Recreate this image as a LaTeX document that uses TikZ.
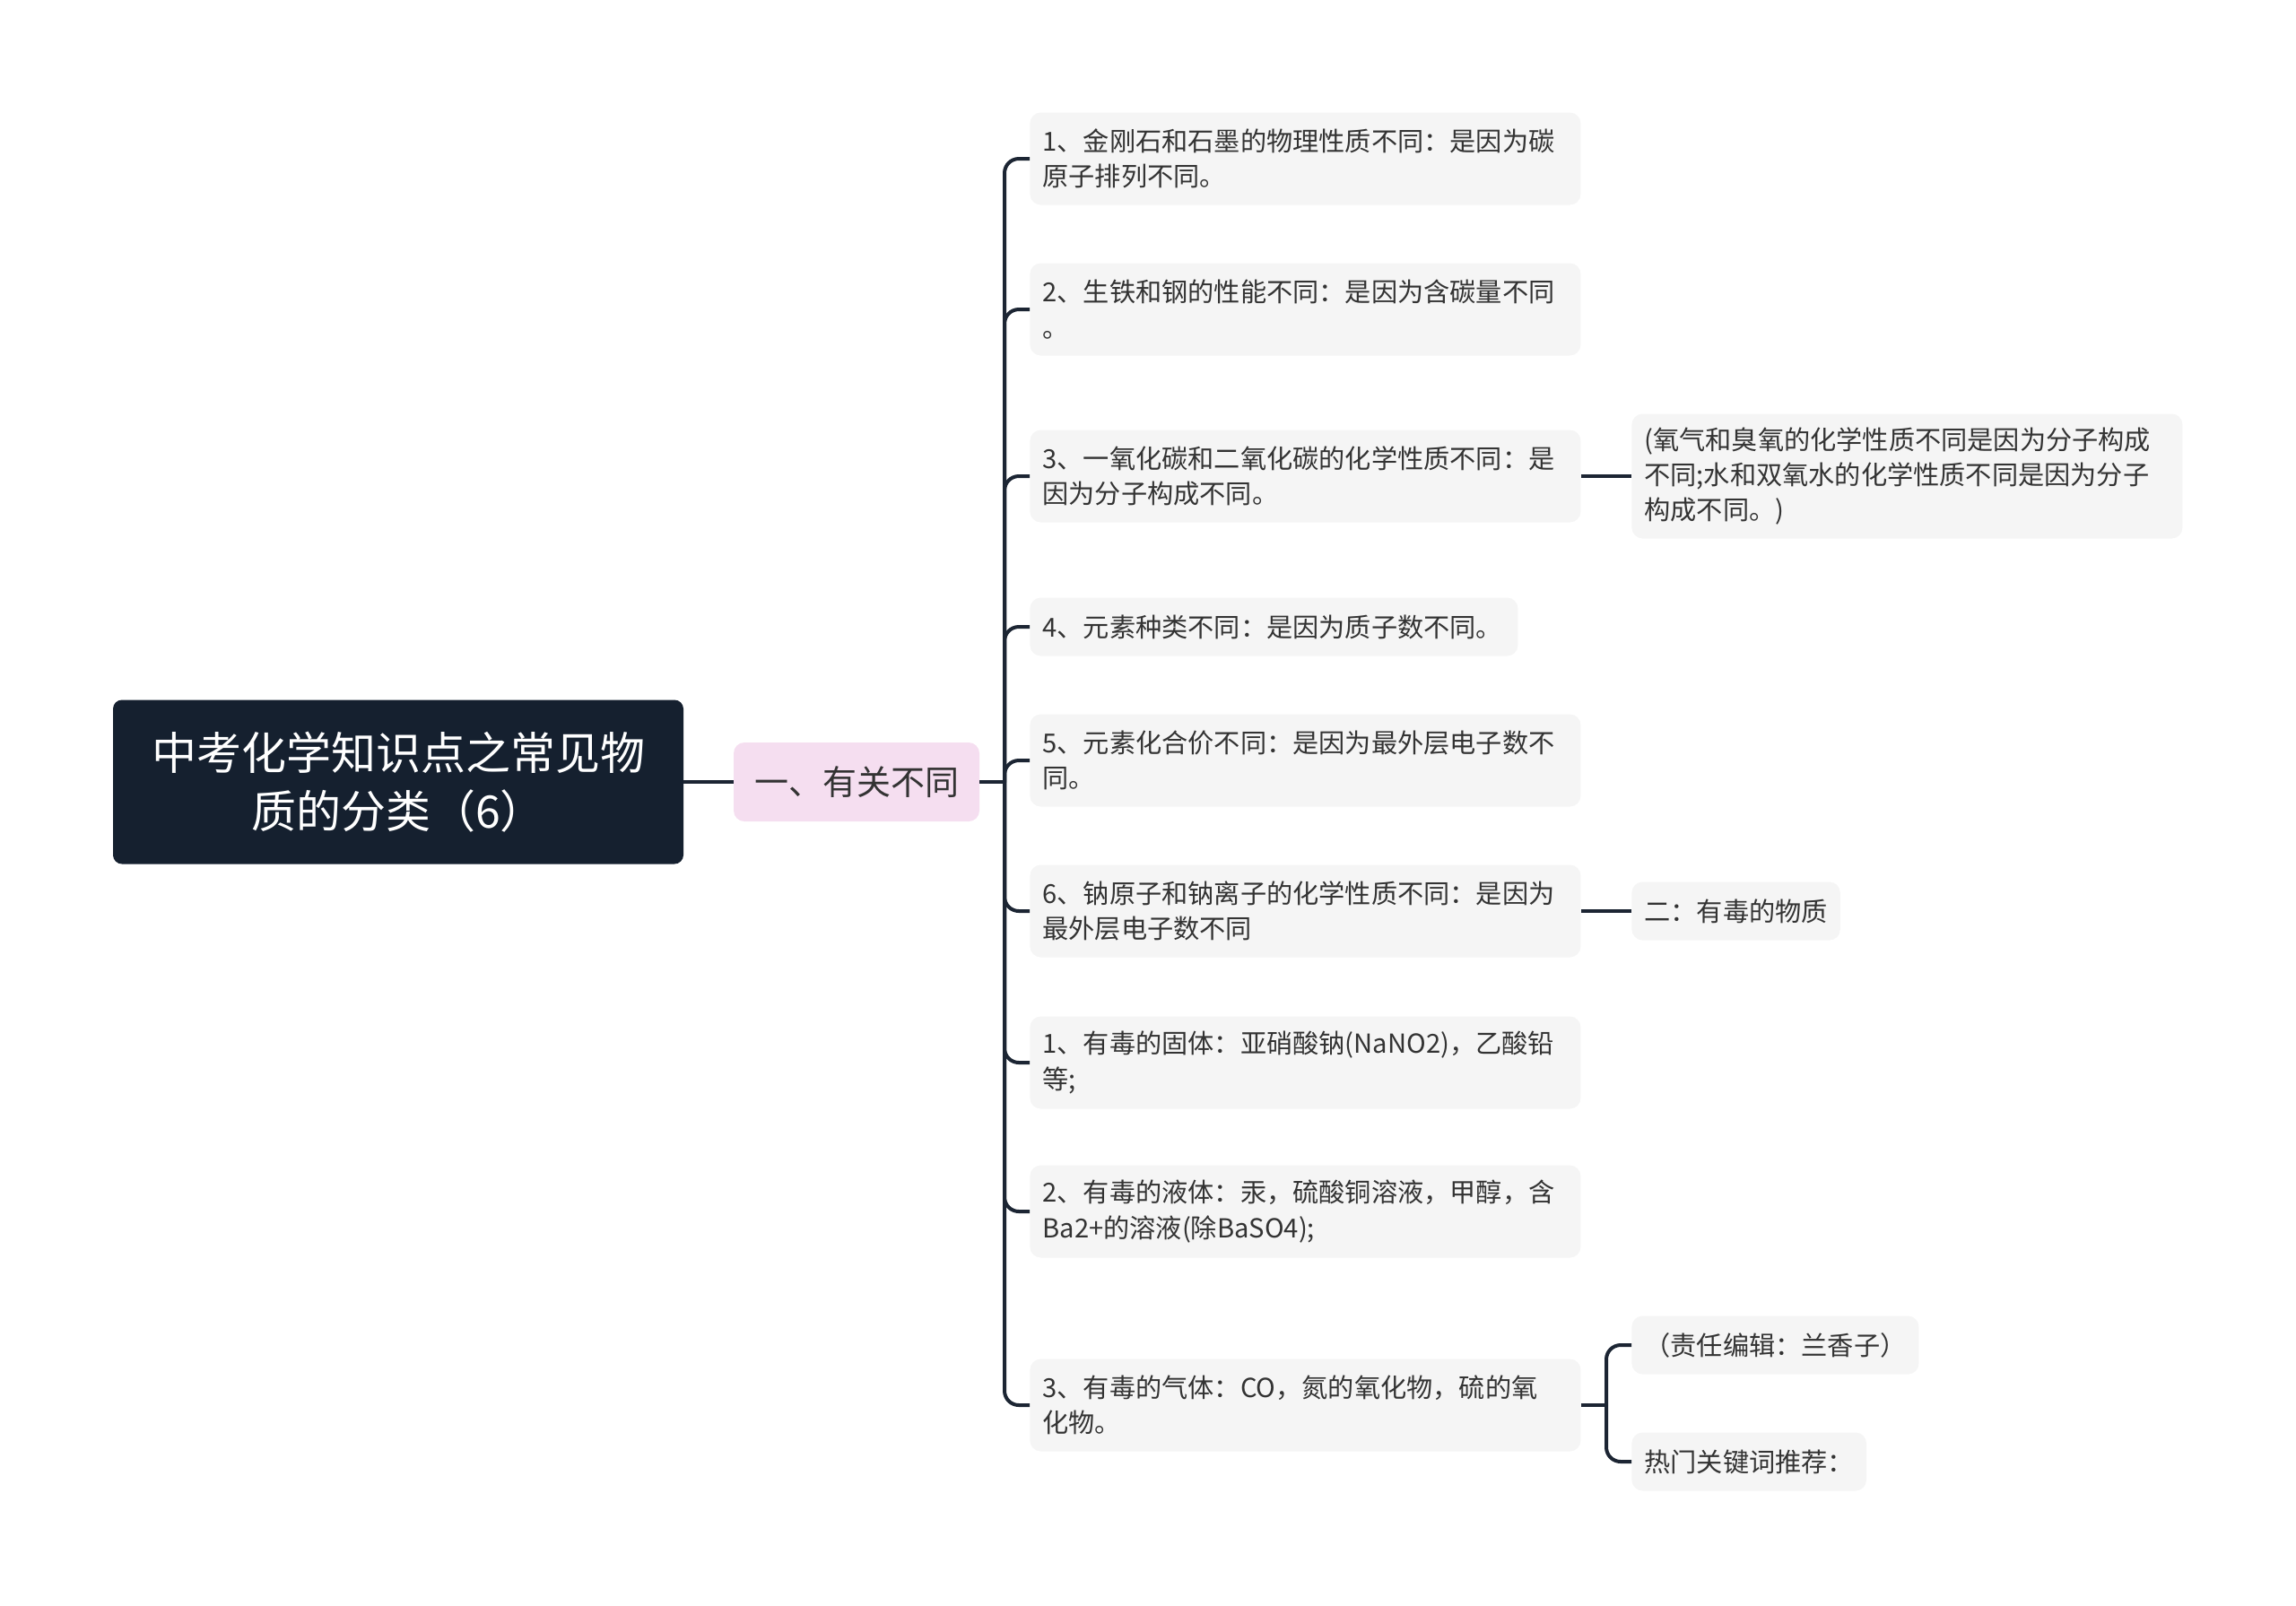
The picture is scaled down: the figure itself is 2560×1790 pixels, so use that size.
\documentclass[tikz,border=0pt]{standalone}
\usepackage{fontspec}
\setmainfont{Noto Sans CJK SC}
\usetikzlibrary{positioning}
\definecolor{navy}{HTML}{15202F}
\definecolor{wirecol}{HTML}{1C2533}
\definecolor{pinkfill}{HTML}{F5DEF0}
\definecolor{leaffill}{HTML}{F5F5F5}
\definecolor{leaftext}{HTML}{333333}
\tikzset{
  wire/.style={draw=wirecol, line width=2pt, rounded corners=8pt},
  rootbox/.style={fill=navy, text=white, rounded corners=5pt, align=center, minimum width=318pt, minimum height=91.5pt, inner sep=0pt, font=\fontsize{25}{32.7}\selectfont},
  topicbox/.style={fill=pinkfill, text=leaftext, rounded corners=6pt, minimum width=137pt, minimum height=44pt, inner sep=0pt, font=\fontsize{19}{24}\selectfont},
  leafbox/.style={fill=leaffill, text=leaftext, rounded corners=6pt, anchor=west, align=left, inner xsep=7pt, inner ysep=0pt, font=\fontsize{14.6}{19.6}\selectfont},
  twoline/.style={leafbox, text width=293pt, minimum height=51.5pt},
  oneline/.style={leafbox, minimum height=32.5pt}
}

\begin{document}
\begin{tikzpicture}[x=0.5pt,y=-0.5pt]
  \useasboundingbox (0,0) rectangle (2560,1790);
  % root and topic
  \node[rootbox] (root) at (444,872) {中考化学知识点之常见物\\质的分类（6）};
  \node[topicbox] (topic) at (955,872) {一、有关不同};
  \coordinate (sp) at (1120,872);
  % leaves
  \node[twoline] (c1) at (1148,177) {1、金刚石和石墨的物理性质不同：是因为碳\\原子排列不同。};
  \node[twoline] (c2) at (1148,345) {2、生铁和钢的性能不同：是因为含碳量不同\\。};
  \node[twoline] (c3) at (1148,531) {3、一氧化碳和二氧化碳的化学性质不同：是\\因为分子构成不同。};
  \node[oneline, text width=258pt] (c4) at (1148,699) {4、元素种类不同：是因为质子数不同。};
  \node[twoline] (c5) at (1148,848) {5、元素化合价不同：是因为最外层电子数不\\同。};
  \node[twoline] (c6) at (1148,1016) {6、钠原子和钠离子的化学性质不同：是因为\\最外层电子数不同};
  \node[twoline] (c7) at (1148,1185) {1、有毒的固体：亚硝酸钠(NaNO2)，乙酸铅\\等;};
  \node[twoline] (c8) at (1148,1351) {2、有毒的液体：汞，硫酸铜溶液，甲醇，含\\Ba2+的溶液(除BaSO4);};
  \node[twoline] (c9) at (1148,1567) {3、有毒的气体：CO，氮的氧化物，硫的氧\\化物。};
  % second level
  \node[leafbox, text width=293pt, minimum height=69.5pt] (c3a) at (1819,531) {(氧气和臭氧的化学性质不同是因为分子构成\\不同;水和双氧水的化学性质不同是因为分子\\构成不同。)};
  \node[oneline] (c6a) at (1819,1016) {二：有毒的物质};
  \node[oneline] (c9a) at (1819,1500) {（责任编辑：兰香子）};
  \node[oneline] (c9b) at (1819,1630) {热门关键词推荐：};
  \coordinate (sp9) at (1791,1567);
  % connectors
  \draw[wire] (root.east) -- (topic.west);
  \draw[wire] (topic.east) -- (sp);
  \foreach \c in {c1,c2,c3,c4,c5,c6,c7,c8,c9}
    \draw[wire] (sp) |- (\c.west);
  \draw[wire] (c3.east) -- (c3a.west);
  \draw[wire] (c6.east) -- (c6a.west);
  \draw[wire] (c9.east) -- (sp9);
  \draw[wire] (sp9) |- (c9a.west);
  \draw[wire] (sp9) |- (c9b.west);
\end{tikzpicture}
\end{document}
